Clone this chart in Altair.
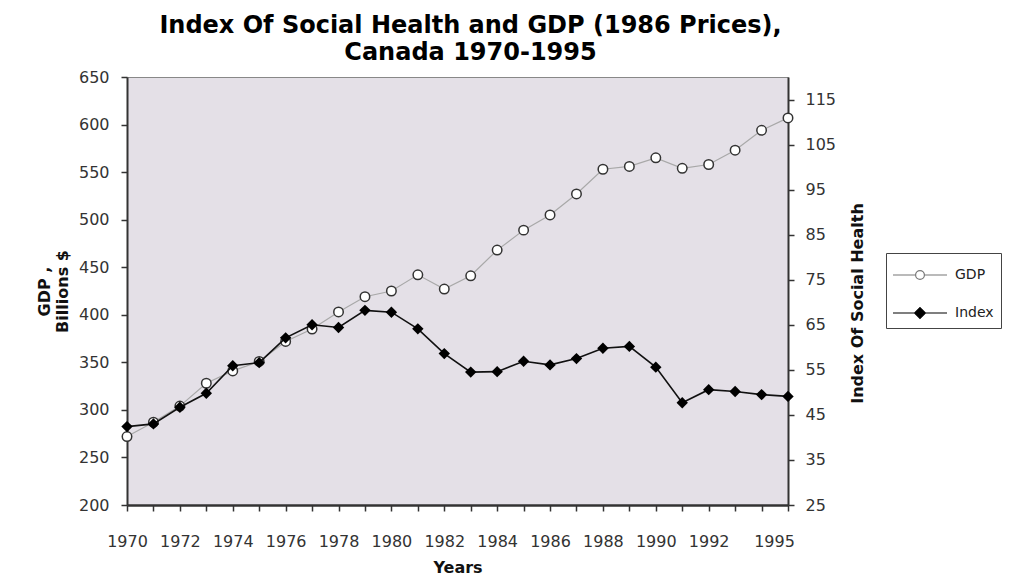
import altair as alt
import pandas as pd

years = list(range(1970, 1996))
gdp = [272, 287, 304, 328, 341, 351, 372, 385, 403, 419, 425, 442, 427,
       441, 468, 489, 505, 527, 553, 556, 565, 554, 558, 573, 594, 607]
index = [42.4, 43.0, 46.7, 49.8, 55.9, 56.6, 62.1, 65.0, 64.4, 68.2, 67.8, 64.1, 58.6,
         54.5, 54.6, 56.9, 56.1, 57.5, 59.8, 60.2, 55.6, 47.7, 50.6, 50.2, 49.5, 49.1]
series_names = ["GDP", "Index"]
gdp_ticks = list(range(200, 651, 50))
index_ticks = list(range(25, 116, 10))

rows = []
for y, v in zip(years, gdp):
    rows.append({"year": y, "series": "GDP", "value": v})
for y, v in zip(years, index):
    rows.append({"year": y, "series": "Index", "value": v})
df = pd.DataFrame(rows)

FONT = "DejaVu Sans"

x_enc = alt.X(
    "year:Q",
    scale=alt.Scale(domain=[1970, 1995], nice=False, zero=False),
    axis=alt.Axis(
        values=years,
        title="Years",
        labelExpr="((datum.value <= 1992 && datum.value % 2 == 0) || datum.value == 1995) ? format(datum.value, 'd') : ''",
        labelOffset={"condition": {"test": "datum.value == 1995", "value": -14}, "value": 0},
        labelOverlap=False,
        labelFlush=False,
        labelPadding=22,
        titlePadding=10,
        domainWidth=2.5,
    ),
)

y_gdp = alt.Y(
    "value:Q",
    scale=alt.Scale(domain=[200, 650], nice=False, zero=False),
    axis=alt.Axis(
        orient="left",
        values=gdp_ticks,
        title=["GDP ,", "Billions $"],
        titleLineHeight=18,
        labelPadding=12,
        titlePadding=8,
        labelOverlap=False,
    ),
)

y_idx = alt.Y(
    "value:Q",
    scale=alt.Scale(domain=[25, 120], nice=False, zero=False),
    axis=alt.Axis(
        orient="right",
        values=index_ticks,
        title="Index Of Social Health",
        titleAngle=270,
        titleY=226,
        labelPadding=11,
        titlePadding=30,
        labelOverlap=False,
    ),
)

gdp_path = "M-6.75,0L-1.1,0M1.1,0L6.75,0M1.1,0A1.1,1.1,0,1,1,-1.1,0A1.1,1.1,0,1,1,1.1,0Z"
idx_path = "M-6.75,0L6.75,0M0,-1.35L1.35,0L0,1.35L-1.35,0Z"

gdp_base = alt.Chart(df).transform_filter(alt.datum.series == "GDP")
gdp_line = gdp_base.mark_line(color="#a8a8a8", strokeWidth=1.2).encode(x=x_enc, y=y_gdp)
gdp_pts = gdp_base.mark_point(
    shape="circle", filled=True, fill="white", stroke="#333333", strokeWidth=1.5, size=90, opacity=1
).encode(x=x_enc, y=y_gdp)

legend_layer = alt.Chart(df).transform_filter(alt.datum.series == "GDP").mark_point(opacity=0).encode(
    x=x_enc,
    y=y_gdp,
    shape=alt.Shape(
        "series:N",
        scale=alt.Scale(domain=series_names, range=[gdp_path, idx_path]),
        legend=alt.Legend(
            title=" ",
            titleFontSize=1,
            titlePadding=7,
            orient="none",
            legendX=759,
            legendY=176,
            padding=7,
            strokeColor="#444444",
            fillColor="white",
            symbolSize=64,
            symbolOffset=20,
            symbolStrokeWidth=1.2,
            symbolOpacity=1,
            labelOffset=28,
            labelFont=FONT,
            labelFontSize=14,
            labelColor="#222222",
            rowPadding=23,
        ),
    ),
    stroke=alt.Stroke("series:N", scale=alt.Scale(domain=series_names, range=["#777777", "#000000"])),
    fill=alt.Fill("series:N", scale=alt.Scale(domain=series_names, range=["#ffffff", "#000000"])),
)

idx_base = alt.Chart(df).transform_filter(alt.datum.series == "Index")
idx_line = idx_base.mark_line(color="#111111", strokeWidth=1.6).encode(x=x_enc, y=y_idx)
idx_pts = idx_base.mark_point(
    shape="diamond", filled=True, color="#000000", size=130, opacity=1
).encode(x=x_enc, y=y_idx)

left = alt.layer(gdp_line, gdp_pts, legend_layer)
right = alt.layer(idx_line, idx_pts)

chart = alt.layer(left, right).resolve_scale(y="independent").properties(
    width=661,
    height=428,
    autosize=alt.AutoSizeParams(type="none"),
    padding={"left": 119, "top": 69, "right": 215, "bottom": 72},
    title=alt.TitleParams(
        ["Index Of Social Health and GDP (1986 Prices),", "Canada 1970-1995"],
        font=FONT,
        fontSize=24,
        fontWeight="bold",
        lineHeight=27,
        anchor="middle",
        dx=13,
        offset=4,
        color="#000000",
    ),
).configure_view(
    fill="#e4e0e7", stroke="#888888", strokeWidth=1
).configure_axis(
    labelFont=FONT,
    labelFontSize=16,
    labelColor="#333333",
    titleFont=FONT,
    titleFontSize=16,
    titleFontWeight="bold",
    titleColor="#111111",
    domainColor="#333333",
    domainWidth=2,
    tickColor="#333333",
    tickSize=6,
    tickWidth=1.5,
    grid=False,
)

chart.save("out.html", embed_options={"renderer": "svg", "actions": False})
